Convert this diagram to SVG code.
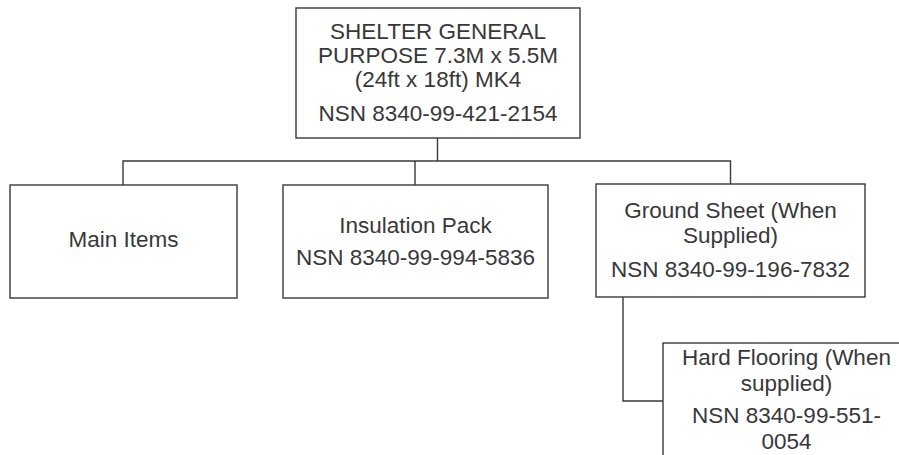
<svg xmlns="http://www.w3.org/2000/svg" width="899" height="455" viewBox="0 0 899 455">
<style>
.box{fill:#fff;stroke:#3a3a3a;stroke-width:1.4}
.ln{fill:none;stroke:#3a3a3a;stroke-width:1.4}
text{font-family:"Liberation Sans",Arial,sans-serif;font-size:22.5px;fill:#383838;text-anchor:middle}
</style>
<rect width="899" height="455" fill="#fff"/>
<g id="connectors">
<path class="ln" d="M437.5,138 V161 M123,185 V161 H730.5 V184 M415,161 V185 M623,297 V401 H663"/>
</g>
<g id="shelter">
<rect class="box" x="296" y="8" width="284" height="130"/>
<text x="438" y="39">SHELTER GENERAL</text>
<text x="438" y="63">PURPOSE 7.3M x 5.5M</text>
<text x="438" y="87">(24ft x 18ft) MK4</text>
<text x="438" y="121">NSN 8340-99-421-2154</text>
</g>
<g id="main-items">
<rect class="box" x="10" y="185" width="227" height="113"/>
<text x="123.5" y="247">Main Items</text>
</g>
<g id="insulation">
<rect class="box" x="283" y="185" width="265" height="113"/>
<text x="415.5" y="233">Insulation Pack</text>
<text x="415.5" y="265">NSN 8340-99-994-5836</text>
</g>
<g id="ground-sheet">
<rect class="box" x="596" y="184" width="269" height="113"/>
<text x="730.5" y="218">Ground Sheet (When</text>
<text x="730.5" y="243">Supplied)</text>
<text x="730.5" y="277">NSN 8340-99-196-7832</text>
</g>
<g id="hard-flooring">
<rect class="box" x="663" y="343" width="250" height="130"/>
<text x="786.5" y="365">Hard Flooring (When</text>
<text x="786.5" y="391">supplied)</text>
<text x="786.5" y="423">NSN 8340-99-551-</text>
<text x="786.5" y="449">0054</text>
</g>
</svg>
